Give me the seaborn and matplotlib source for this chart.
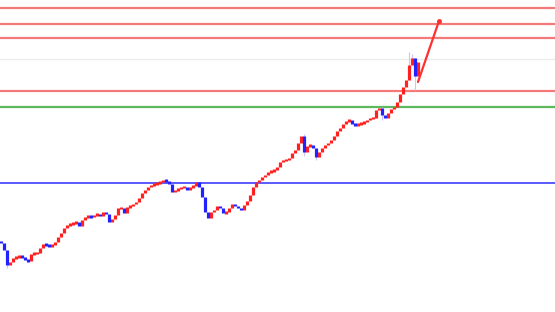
import numpy as np
import pandas as pd
import matplotlib
matplotlib.use("Agg")
import matplotlib.pyplot as plt
import seaborn as sns

# Closing prices of each candle (arbitrary price units)
closes = [77, 70, 55, 58, 62, 63, 64, 63, 60, 59,
          66, 67, 67, 72, 76, 75, 74, 75, 78, 83,
          87, 92, 95, 96, 97, 98, 94, 100, 103, 104,
          103, 105, 106, 104, 108, 106, 98, 101, 105, 112,
          112, 107, 113, 114, 116, 118, 122, 127, 130, 133,
          135, 136, 137, 138, 140, 139, 136, 128, 130, 131,
          133, 133, 130, 133, 134, 138, 133, 123, 108, 102,
          108, 110, 114, 112, 107, 108, 112, 116, 114, 112,
          110, 115, 119, 125, 133, 138, 140, 143, 145, 148,
          149, 150, 153, 158, 160, 160, 162, 167, 170, 177,
          184, 168, 174, 175, 172, 163, 168, 172, 175, 177,
          180, 184, 189, 192, 196, 199, 200, 196, 195, 196,
          197, 198, 200, 202, 202, 210, 212, 205, 202, 207,
          211, 213, 218, 226, 233, 240, 255, 262, 244, 258]
first_open = 79

# A few visible wicks: (candle index, low, high)
wicks = [(2, 52, 60), (101, 164, 186), (105, 160, 166), (136, 240, 268),
         (138, 230, 262), (137, 255, 266), (127, 200, 213)]

# Horizontal levels
red_levels = [312, 296, 282.5, 229]
green_level = 213.5
blue_level = 137
gray_level = 261

# Projection line (candle index, price)
proj_x = [139, 146]
proj_y = [238, 299]

sns.set_theme(style="white")

df = pd.DataFrame({"i": np.arange(len(closes)), "close": closes})
df["open"] = [first_open] + closes[:-1]
df["up"] = df["close"] >= df["open"]
# minimum visible body
df["top"] = df[["open", "close"]].max(axis=1)
df["bot"] = df[["open", "close"]].min(axis=1)
small = (df["top"] - df["bot"]) < 1.5
df.loc[small, "top"] = df.loc[small, "top"] + 0.75
df.loc[small, "bot"] = df.loc[small, "bot"] - 0.75

fig = plt.figure(figsize=(5.55, 3.12), dpi=100)
ax = fig.add_axes([0, 0, 1, 1])

ax.axhline(gray_level, color="#ececec", lw=1.0, zorder=1)
for lv in red_levels:
    ax.axhline(lv, color="#f47a7a", lw=1.6, zorder=1)
ax.axhline(green_level, color="#5cb85c", lw=1.6, zorder=1)
ax.axhline(blue_level, color="#5a5aff", lw=1.4, zorder=1)

for i, lo, hi in wicks:
    ax.vlines(i, lo, hi, color="#c8c8f0", lw=0.8, zorder=2)

up = df[df["up"]]
dn = df[~df["up"]]
ax.vlines(up["i"], up["bot"], up["top"], color="#ff2020", lw=2.3, zorder=3)
ax.vlines(dn["i"], dn["bot"], dn["top"], color="#2222ff", lw=2.3, zorder=3)

proj = pd.DataFrame({"x": proj_x, "y": proj_y})
sns.lineplot(data=proj, x="x", y="y", ax=ax, color="#ff3030", lw=1.6, zorder=4)
ax.plot(proj_x[-1], proj_y[-1], "o", color="#ff3030", ms=2.5, zorder=5)

ax.set_xlim(-0.33, 184.67)
ax.set_ylim(8, 320)
ax.set_axis_off()
fig.savefig("out.png", dpi=100)
